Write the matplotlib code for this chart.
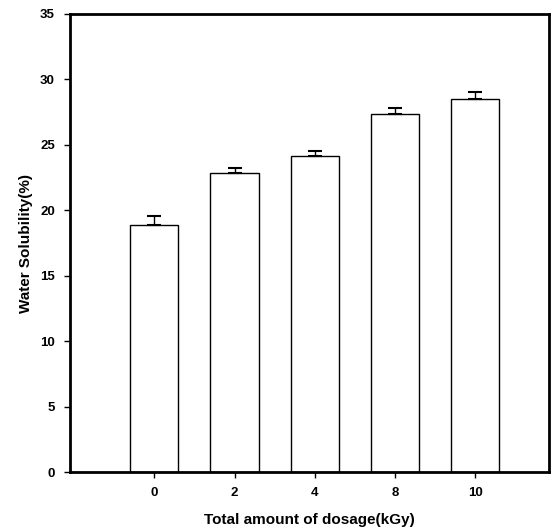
import matplotlib
matplotlib.use("Agg")
import matplotlib.pyplot as plt
import numpy as np

# dosage groups (kGy) and measured water solubility (%)
doses = ["0", "2", "4", "8", "10"]
solubility = [18.87, 22.87, 24.12, 27.35, 28.52]
err_up = [0.70, 0.40, 0.40, 0.50, 0.50]

plt.rcParams['font.family'] = ['Liberation Sans', 'DejaVu Sans']
plt.rcParams['font.weight'] = 'bold'

fig = plt.figure(figsize=(5.52, 5.28), dpi=100)
ax = fig.add_axes([0.127, 0.106, 0.8676, 0.8675])

x = np.arange(len(doses))
ax.bar(x, solubility, width=0.6, color="white", edgecolor="black", linewidth=1.0, zorder=2)
ax.errorbar(x, solubility, yerr=[np.zeros(len(err_up)), err_up], fmt="none",
            ecolor="black", elinewidth=1.0, capsize=5, capthick=1.5, zorder=3)

ax.set_xlim(-1.05, 4.92)
ax.set_ylim(0, 35)
ax.set_yticks(range(0, 36, 5))
ax.set_xticks(x)
ax.set_xticklabels(doses)

for s in ax.spines.values():
    s.set_linewidth(2.0)

ax.tick_params(axis="both", direction="out", length=4, width=1, labelsize=9.5, pad=7)

ax.set_xlabel("Total amount of dosage(kGy)", fontsize=11, fontweight="bold", labelpad=10)
ax.set_ylabel("Water Solubility(%)", fontsize=11, fontweight="bold", labelpad=5)

fig.savefig("out.png", dpi=100)
